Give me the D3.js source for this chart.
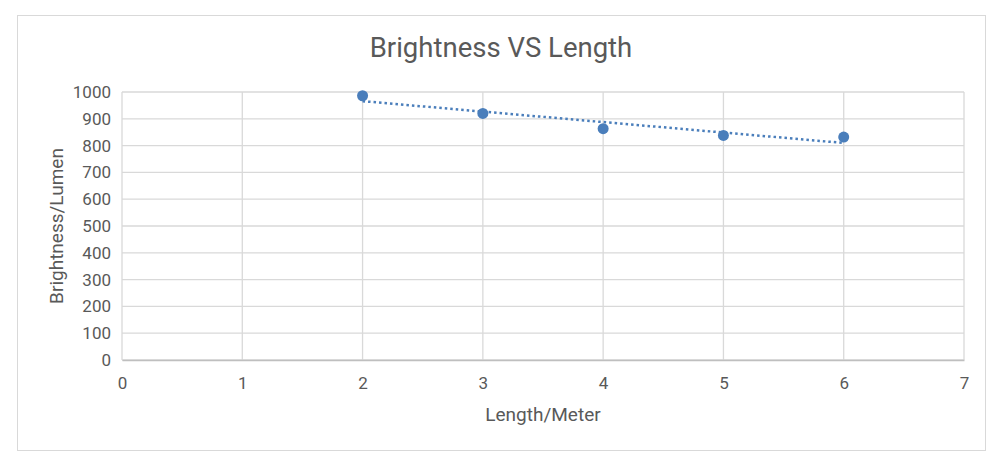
<!DOCTYPE html>
<html>
<head>
<meta charset="utf-8">
<script src="https://cdn.jsdelivr.net/npm/d3@7"></script>
<style>
  body { margin: 0; background: #fff; }
  text { font-family: Roboto, "Noto Sans", sans-serif; fill: #595959; }
</style>
</head>
<body>
<svg id="chart" width="1000" height="466"></svg>
<script>
// data
const lengths = [2, 3, 4, 5, 6];
const brightness = [986, 920, 863, 838, 832];
const xTicks = [0, 1, 2, 3, 4, 5, 6, 7];
const yTicks = [0, 100, 200, 300, 400, 500, 600, 700, 800, 900, 1000];

const svg = d3.select("#chart");
const margin = { left: 122, right: 36, top: 92, bottom: 106 };
const width = 1000, height = 466;
const color = "#4a7ebb";

// outer frame
svg.append("rect")
  .attr("x", 17.5).attr("y", 15.5)
  .attr("width", 968).attr("height", 435)
  .attr("fill", "#fff")
  .attr("stroke", "#d9d9d9");

const x = d3.scaleLinear().domain([0, 7]).range([margin.left, width - margin.right]);
const y = d3.scaleLinear().domain([0, 1000]).range([height - margin.bottom, margin.top]);

// grid
svg.append("g").selectAll("line.h")
  .data(yTicks)
  .join("line")
  .attr("x1", x(0)).attr("x2", x(7))
  .attr("y1", d => y(d)).attr("y2", d => y(d))
  .attr("stroke", "#d9d9d9").attr("stroke-width", 1.3);

svg.append("g").selectAll("line.v")
  .data(xTicks)
  .join("line")
  .attr("x1", d => x(d)).attr("x2", d => x(d))
  .attr("y1", y(0)).attr("y2", y(1000))
  .attr("stroke", "#d9d9d9").attr("stroke-width", 1.3);

// axes
const fmt = d3.format("d");
const xAxis = svg.append("g")
  .attr("transform", `translate(0,${y(0)})`)
  .call(d3.axisBottom(x).tickValues(xTicks).tickFormat(fmt).tickSize(0).tickPadding(17));
const yAxis = svg.append("g")
  .attr("transform", `translate(${x(0)},0)`)
  .call(d3.axisLeft(y).tickValues(yTicks).tickFormat(fmt).tickSize(0).tickPadding(11));
[xAxis, yAxis].forEach(g => {
  g.select(".domain").attr("stroke", "#bfbfbf").attr("stroke-width", 1.3);
  g.selectAll("text").attr("font-size", 17).attr("fill", "#595959")
    .attr("font-family", "Roboto, sans-serif");
});
yAxis.select(".domain").remove();

// linear trendline (least squares, like the spreadsheet)
const mx = d3.mean(lengths), my = d3.mean(brightness);
const slope = d3.sum(lengths, (d, i) => (d - mx) * (brightness[i] - my)) /
  d3.sum(lengths, d => (d - mx) ** 2);
const trend = [lengths[0], lengths[lengths.length - 1]].map(d => [d, my + slope * (d - mx)]);

svg.append("path")
  .datum(trend)
  .attr("fill", "none")
  .attr("stroke", color)
  .attr("stroke-width", 2.5)
  .attr("stroke-dasharray", "2.5,3")
  .attr("d", d3.line().x(d => x(d[0])).y(d => y(d[1])));

// points
svg.append("g").selectAll("circle")
  .data(lengths)
  .join("circle")
  .attr("cx", d => x(d))
  .attr("cy", (d, i) => y(brightness[i]))
  .attr("r", 5.5)
  .attr("fill", color);

// titles
svg.append("text")
  .attr("x", 501).attr("y", 57)
  .attr("text-anchor", "middle")
  .attr("font-size", 27.5)
  .text("Brightness VS Length");

svg.append("text")
  .attr("x", 543).attr("y", 421)
  .attr("text-anchor", "middle")
  .attr("font-size", 19)
  .text("Length/Meter");

svg.append("text")
  .attr("transform", `translate(63,${(y(0) + y(1000)) / 2}) rotate(-90)`)
  .attr("text-anchor", "middle")
  .attr("font-size", 19)
  .text("Brightness/Lumen");
</script>
</body>
</html>
